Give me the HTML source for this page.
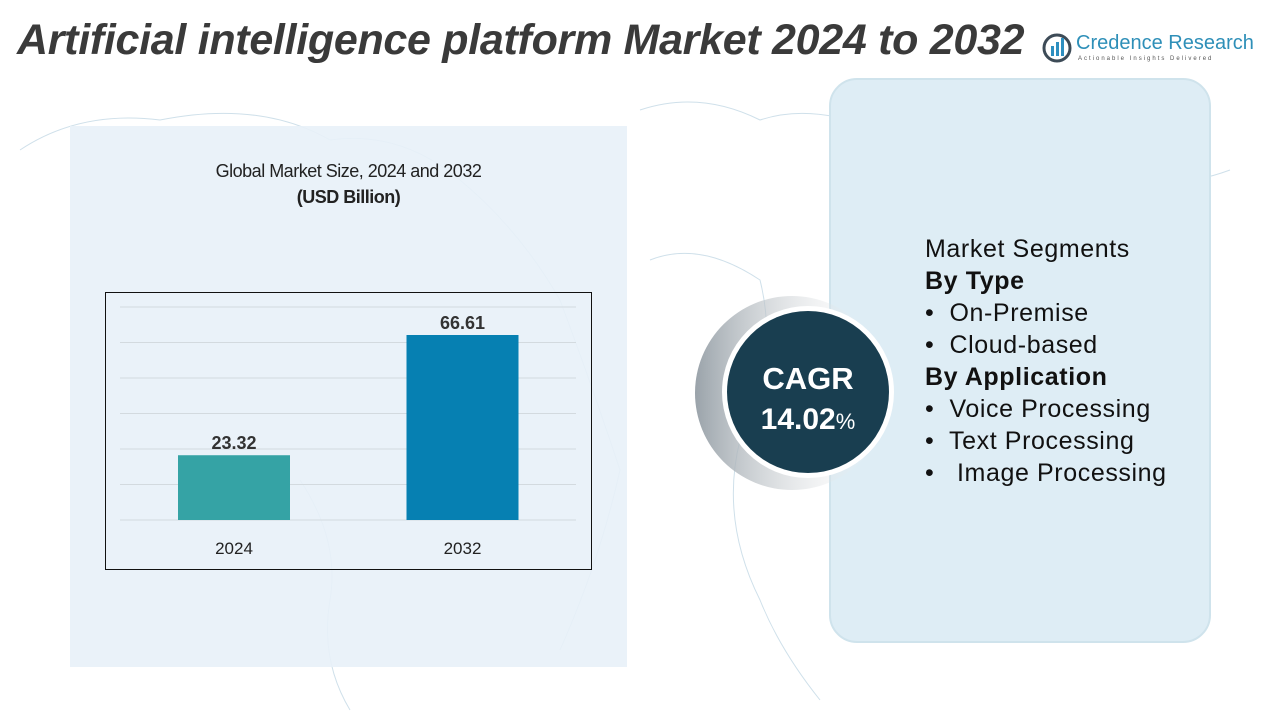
<!DOCTYPE html>
<html><head><meta charset="utf-8">
<style>
body{margin:0;width:1280px;height:720px;overflow:hidden;background:#fff;font-family:"Liberation Sans",sans-serif;position:relative}
.abs{position:absolute}
</style></head>
<body>
<svg class="abs" style="left:0;top:0" width="1280" height="720">
  <g fill="none" stroke="#cfe0ea" stroke-width="1">
    <path d="M20 150 Q80 110 160 120 Q260 100 330 140 Q400 130 460 180 Q520 230 560 300 Q590 380 620 470 Q600 560 560 650"/>
    <path d="M640 110 Q700 90 760 120 Q820 100 900 140 Q980 120 1060 160 Q1150 200 1230 170"/>
    <path d="M650 260 Q700 240 760 280 Q780 360 740 440 Q720 520 760 600 Q780 650 820 700"/>
    <path d="M300 480 Q340 540 330 600 Q320 660 350 710"/>
  </g>
</svg>
<div class="abs" style="left:70px;top:126px;width:557px;height:541px;background:#e8f1f8;opacity:.9"></div>
<div class="abs" style="left:17px;top:16px;font-size:43px;font-weight:bold;font-style:italic;color:#3a3a3a;letter-spacing:-0.3px;white-space:nowrap">Artificial intelligence platform Market 2024 to 2032</div>
<div class="abs" style="left:1042px;top:30px;width:210px;height:36px">
  <svg width="30" height="32" style="position:absolute;left:0;top:2px"><circle cx="15" cy="16" r="13" fill="none" stroke="#3d4b57" stroke-width="3"/><rect x="9" y="14" width="3" height="10" fill="#2e8fc0"/><rect x="14" y="10" width="3" height="14" fill="#2e8fc0"/><rect x="19" y="6" width="3" height="18" fill="#2e8fc0"/></svg>
  <div style="position:absolute;left:34px;top:2px;font-size:20px;color:#2e8fb8;white-space:nowrap">Credence Research</div>
  <div style="position:absolute;left:36px;top:26px;font-size:6px;letter-spacing:2px;color:#555;white-space:nowrap">Actionable Insights Delivered</div>
</div>
<div class="abs" style="left:70px;width:557px;top:161px;text-align:center;font-size:18px;color:#222;letter-spacing:-0.5px">Global Market Size, 2024 and 2032<br><b style="line-height:30px">(USD Billion)</b></div>

<svg class="abs" id="chart" style="left:0;top:0" width="1280" height="720">
  <rect x="105.5" y="292.5" width="486" height="277" fill="none" stroke="#111" stroke-width="1"/>
</svg>

<div class="abs" style="left:829px;top:78px;width:378px;height:561px;border:2px solid #cfe3ec;border-radius:28px;background:#deedf5"></div>

<svg class="abs" style="left:680px;top:290px" width="240" height="210">
  <defs><linearGradient id="g" x1="0" x2="1"><stop offset="0" stop-color="#9aa3aa"/><stop offset="1" stop-color="#fff" stop-opacity="0"/></linearGradient></defs>
  <circle cx="112" cy="103" r="97" fill="url(#g)"/>
  <circle cx="128" cy="102" r="86" fill="#fff"/>
  <circle cx="128" cy="102" r="81" fill="#193e50"/>
  <text x="128" y="99" text-anchor="middle" font-size="31" font-weight="bold" fill="#fff" font-family="Liberation Sans">CAGR</text>
  <text x="128" y="139" text-anchor="middle" font-size="30" font-weight="bold" fill="#fff" font-family="Liberation Sans">14.02<tspan font-size="22" font-weight="normal">%</tspan></text>
</svg>

<div class="abs" style="left:925px;top:233px;font-size:25px;line-height:32px;color:#111;white-space:nowrap;letter-spacing:0.6px">
  <div>Market Segments</div>
  <div style="font-weight:bold">By Type</div>
  <div>•&nbsp; On-Premise</div>
  <div>•&nbsp; Cloud-based</div>
  <div style="font-weight:bold">By Application</div>
  <div>•&nbsp; Voice Processing</div>
  <div>•&nbsp; Text Processing</div>
  <div>•&nbsp;&nbsp; Image Processing</div>
</div>

<script>
const categories = ["2024", "2032"];
const values = [23.32, 66.61];
const labels = ["23.32", "66.61"];
const colors = ["#35a3a5", "#0680b2"];
const svg = document.getElementById('chart');
const NS = 'http://www.w3.org/2000/svg';
const baseY = 520, plotH = 185, maxV = 66.61;
const yS = v => baseY - v / maxV * plotH;
const xCenters = [234, 462.5];
const barW = 112;
for (let i = 0; i < 7; i++) {
  const l = document.createElementNS(NS, 'line');
  const y = baseY - i * 35.5;
  l.setAttribute('x1', 120); l.setAttribute('x2', 576);
  l.setAttribute('y1', y); l.setAttribute('y2', y);
  l.setAttribute('stroke', '#d3dadf');
  
  
  svg.appendChild(l);
}
categories.forEach((c, i) => {
  const r = document.createElementNS(NS, 'rect');
  r.setAttribute('x', xCenters[i] - barW / 2);
  r.setAttribute('y', yS(values[i]));
  r.setAttribute('width', barW);
  r.setAttribute('height', baseY - yS(values[i]));
  r.setAttribute('fill', colors[i]);
  
  
  svg.appendChild(r);
  const t = document.createElementNS(NS, 'text');
  t.setAttribute('x', xCenters[i]);
  t.setAttribute('y', yS(values[i]) - 6);
  t.setAttribute('text-anchor', 'middle');
  t.setAttribute('font-size', '18');
  t.setAttribute('font-weight', 'bold');
  t.setAttribute('fill', '#333');
  t.setAttribute('font-family', 'Liberation Sans');
  t.textContent = labels[i];
  
  
  svg.appendChild(t);
  const a = document.createElementNS(NS, 'text');
  a.setAttribute('x', xCenters[i]);
  a.setAttribute('y', 554);
  a.setAttribute('text-anchor', 'middle');
  a.setAttribute('font-size', '17');
  a.setAttribute('fill', '#222');
  a.setAttribute('font-family', 'Liberation Sans');
  a.textContent = c;
  
  
  svg.appendChild(a);
});
</script>
</body></html>
